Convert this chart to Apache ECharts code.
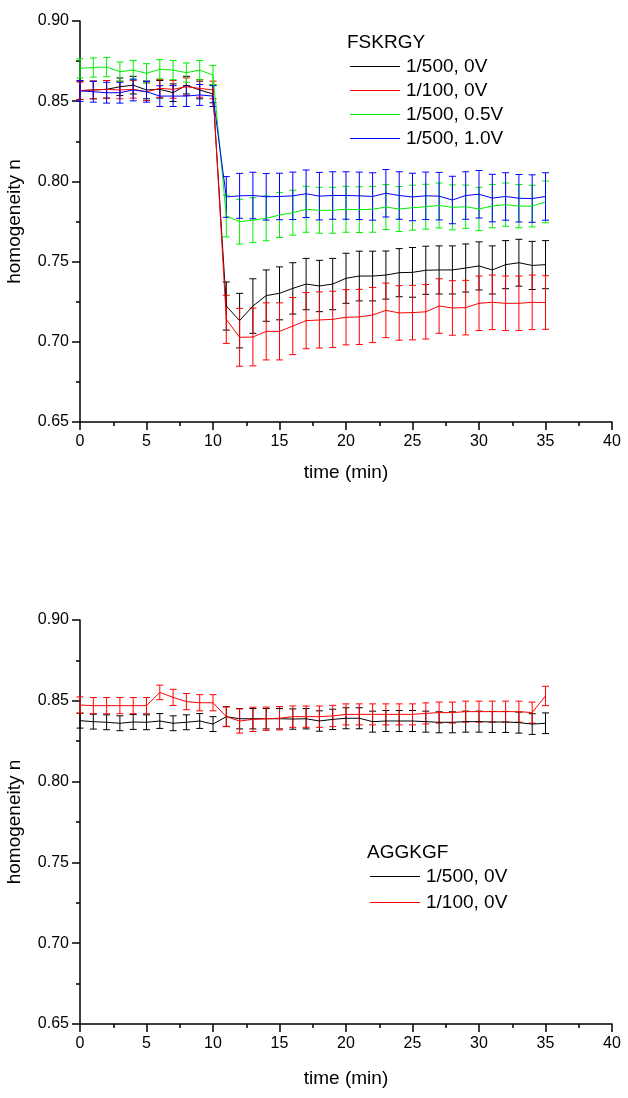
<!DOCTYPE html>
<html>
<head>
<meta charset="utf-8">
<script src="https://cdn.jsdelivr.net/npm/echarts@6/dist/echarts.min.js"></script>
<style>
html,body{margin:0;padding:0;background:#fff;}
#chart{width:628px;height:1098px;}
</style>
</head>
<body>
<div id="chart"></div>
<script>
// ---------- data ----------
const time = [0,1,2,3,4,5,6,7,8,9,10,11,12,13,14,15,16,17,18,19,20,21,22,23,24,25,26,27,28,29,30,31,32,33,34,35];

// Top chart: FSKRGY
const topNames = ['1/500, 0V', '1/100, 0V', '1/500, 0.5V', '1/500, 1.0V'];
const topBlack = [0.8566,0.8570,0.8574,0.8590,0.8600,0.8570,0.8574,0.8553,0.8600,0.8570,0.8545,
  0.7223,0.7132,0.7223,0.7288,0.7302,0.7333,0.7360,0.7348,0.7360,0.7396,0.7410,0.7410,0.7416,0.7431,
  0.7433,0.7446,0.7448,0.7448,0.7460,0.7473,0.7448,0.7481,0.7493,0.7476,0.7481];
const topBlackErr = [0.0055,0.0055,0.0055,0.0055,0.0055,0.0055,0.0055,0.0055,0.0055,0.0055,0.0055,
  0.015,0.017,0.017,0.016,0.0165,0.016,0.016,0.016,0.016,0.0156,0.0155,0.0155,0.015,0.015,
  0.0155,0.015,0.015,0.015,0.015,0.015,0.015,0.015,0.0146,0.015,0.015];
const topRed = [0.8566,0.8570,0.8574,0.8570,0.8574,0.8559,0.8580,0.8574,0.8590,0.8580,0.8570,
  0.7140,0.7028,0.7030,0.7065,0.7065,0.7098,0.7132,0.7136,0.7140,0.7153,0.7155,0.7167,0.7196,0.7180,
  0.7182,0.7187,0.7223,0.7211,0.7213,0.7240,0.7246,0.7240,0.7240,0.7246,0.7245];
const topRedErr = [0.0055,0.0055,0.0055,0.0055,0.0055,0.0055,0.0055,0.0055,0.0055,0.0055,0.0055,
  0.015,0.018,0.018,0.0178,0.0178,0.0178,0.0175,0.0175,0.0175,0.0172,0.0172,0.0172,0.017,0.017,
  0.017,0.017,0.017,0.017,0.017,0.017,0.017,0.017,0.017,0.017,0.0167];
const topGreen = [0.8705,0.8710,0.8713,0.8684,0.8694,0.8674,0.8699,0.8694,0.8678,0.8694,0.8663,
  0.7784,0.7749,0.7758,0.7770,0.7790,0.7805,0.7826,0.7820,0.7820,0.7826,0.7824,0.7826,0.7840,0.7828,
  0.7836,0.7842,0.7850,0.7838,0.7842,0.7828,0.7846,0.7855,0.7846,0.7846,0.7872];
const topGreenErr = [0.006,0.006,0.006,0.006,0.006,0.006,0.006,0.006,0.006,0.006,0.006,
  0.013,0.014,0.014,0.014,0.014,0.014,0.0143,0.0143,0.0143,0.0143,0.0143,0.0143,0.014,0.014,
  0.014,0.014,0.014,0.014,0.0135,0.0135,0.0135,0.0135,0.0135,0.013,0.013];
const topBlue = [0.8564,0.8559,0.8553,0.8553,0.8570,0.8559,0.8532,0.8532,0.8532,0.8539,0.8532,
  0.7903,0.7910,0.7912,0.7904,0.7906,0.7910,0.7923,0.7908,0.7912,0.7912,0.7910,0.7906,0.7926,0.7912,
  0.7903,0.7910,0.7908,0.7884,0.7912,0.7920,0.7896,0.7906,0.7895,0.7893,0.7906];
const topBlueErr = [0.0065,0.0065,0.0065,0.0065,0.0068,0.0065,0.0065,0.0065,0.0065,0.0065,0.0065,
  0.0127,0.014,0.0145,0.0145,0.0145,0.0148,0.0148,0.0148,0.0148,0.0148,0.0148,0.0148,0.0148,0.0148,
  0.0148,0.0148,0.0148,0.0148,0.0148,0.0148,0.0148,0.0148,0.0148,0.0148,0.0148];

// Bottom chart: AGGKGF
const botNames = ['1/500, 0V', '1/100, 0V'];
const botBlack = [0.8377,0.8371,0.8367,0.8361,0.8369,0.8367,0.8375,0.8361,0.8367,0.8375,0.8356,
  0.8402,0.8389,0.8389,0.8389,0.8389,0.8387,0.8389,0.8375,0.8385,
  0.8392,0.8392,0.8371,0.8375,0.8375,0.8375,0.8371,0.8367,0.8367,0.8371,0.8371,0.8369,0.8369,0.8365,0.8356,0.8361];
const botBlackErr = [0.0046,0.0046,0.0046,0.0046,0.0046,0.0046,0.0046,0.0046,0.0046,0.0046,0.0046,
  0.0062,0.0063,0.0063,0.0063,0.0063,0.0063,0.0063,0.0063,0.0063,
  0.0065,0.0065,0.0065,0.0065,0.0065,0.0065,0.0065,0.0065,0.0065,0.0065,0.0065,0.0065,0.0065,0.0065,0.0064,0.0064];
const botRed = [0.8474,0.8470,0.8470,0.8470,0.8470,0.8470,0.8552,0.8521,0.8495,0.8488,0.8488,
  0.8402,0.8375,0.8385,0.8389,0.8392,0.8402,0.8402,0.8402,0.8406,
  0.8416,0.8416,0.8416,0.8416,0.8416,0.8416,0.8422,0.8427,0.8427,0.8433,0.8433,0.8433,0.8433,0.8433,0.8427,0.8530];
const botRedErr = [0.005,0.005,0.005,0.005,0.005,0.005,0.0045,0.005,0.005,0.005,0.005,
  0.006,0.0075,0.0075,0.0072,0.0072,0.0066,0.0066,0.0066,0.0066,
  0.0065,0.0065,0.0065,0.0065,0.0065,0.0065,0.0065,0.0065,0.0065,0.0065,0.0065,0.0065,0.0065,0.0065,0.0065,0.006];

const xTicks = {min: 0, max: 40, interval: 5};
const yTicks = {min: 0.65, max: 0.90, interval: 0.05};

// ---------- chart ----------
const FONT = 'Liberation Sans, Arial, sans-serif';
const COLORS = {black: '#000000', red: '#ff0000', green: '#00f000', blue: '#0000ff'};

function xAxisCfg(gridIndex, nameGap) {
  return {
    type: 'value', gridIndex, min: xTicks.min, max: xTicks.max, interval: xTicks.interval,
    name: 'time (min)', nameLocation: 'middle', nameGap,
    nameTextStyle: {color: '#000', fontSize: 19, fontFamily: FONT},
    axisLine: {show: true, onZero: false, lineStyle: {color: '#000', width: 1.5}},
    axisTick: {show: true, inside: false, length: 8, lineStyle: {color: '#000', width: 1.5}},
    minorTick: {show: true, splitNumber: 2, length: 4, lineStyle: {color: '#000', width: 1.5}},
    splitLine: {show: false}, minorSplitLine: {show: false},
    axisLabel: {color: '#000', fontSize: 16, fontFamily: FONT, margin: 12}
  };
}
function yAxisCfg(gridIndex) {
  return {
    type: 'value', gridIndex, min: yTicks.min, max: yTicks.max, interval: yTicks.interval,
    name: 'homogeneity n', nameLocation: 'middle', nameGap: 56, nameRotate: 90,
    nameTextStyle: {color: '#000', fontSize: 19, fontFamily: FONT},
    axisLine: {show: true, onZero: false, lineStyle: {color: '#000', width: 1.5}},
    axisTick: {show: true, inside: false, length: 8, lineStyle: {color: '#000', width: 1.5}},
    minorTick: {show: true, splitNumber: 2, length: 4, lineStyle: {color: '#000', width: 1.5}},
    splitLine: {show: false}, minorSplitLine: {show: false},
    axisLabel: {color: '#000', fontSize: 16, fontFamily: FONT, margin: 11,
      formatter: v => v.toFixed(2)}
  };
}

function errSeries(id, gi, mean, err, color) {
  return {
    type: 'custom', name: id, xAxisIndex: gi, yAxisIndex: gi, silent: true,
    encode: {x: 0, y: [1, 2]},
    data: time.map((t, i) => [t, mean[i] - err[i], mean[i] + err[i]]),
    renderItem: function (params, api) {
      const lo = api.coord([api.value(0), api.value(1)]);
      const hi = api.coord([api.value(0), api.value(2)]);
      const w = 3.5;
      const st = {stroke: color, lineWidth: 1};
      return {type: 'group', children: [
        {type: 'line', shape: {x1: lo[0], y1: lo[1], x2: hi[0], y2: hi[1]}, style: st},
        {type: 'line', shape: {x1: lo[0] - w, y1: lo[1], x2: lo[0] + w, y2: lo[1]}, style: st},
        {type: 'line', shape: {x1: hi[0] - w, y1: hi[1], x2: hi[0] + w, y2: hi[1]}, style: st}
      ]};
    }
  };
}
function lineSeries(name, gi, mean, color) {
  return {
    type: 'line', name, xAxisIndex: gi, yAxisIndex: gi,
    data: time.map((t, i) => [t, mean[i]]),
    showSymbol: false, symbol: 'none',
    lineStyle: {color, width: 1}, itemStyle: {color},
    emphasis: {disabled: true}
  };
}

const legendText = {color: '#000', fontSize: 19, lineHeight: 19, fontFamily: FONT, padding: [0, 0, 0, 1]};

const chart = echarts.init(document.getElementById('chart'), null, {renderer: 'canvas'});
chart.setOption({
  animation: false,
  backgroundColor: '#ffffff',
  textStyle: {fontFamily: FONT},
  title: [
    {text: 'FSKRGY', left: 342, top: 28, textStyle: {color: '#000', fontSize: 19, fontWeight: 'normal', fontFamily: FONT}},
    {text: 'AGGKGF', left: 362, top: 838, textStyle: {color: '#000', fontSize: 19, fontWeight: 'normal', fontFamily: FONT}}
  ],
  legend: [
    {data: topNames, orient: 'vertical', left: 345, top: 52, icon: 'rect', itemWidth: 50, itemHeight: 1, itemGap: 5,
      textStyle: legendText, selectedMode: false},
    {data: botNames, orient: 'vertical', left: 365, top: 862, icon: 'rect', itemWidth: 50, itemHeight: 1, itemGap: 7,
      textStyle: legendText, selectedMode: false}
  ],
  grid: [
    {left: 80, top: 21, width: 532, height: 401, containLabel: false, outerBoundsMode: 'none'},
    {left: 80, top: 620, width: 532, height: 404, containLabel: false, outerBoundsMode: 'none'}
  ],
  xAxis: [xAxisCfg(0, 41), xAxisCfg(1, 45)],
  yAxis: [yAxisCfg(0), yAxisCfg(1)],
  series: [
    errSeries('e-top-black', 0, topBlack, topBlackErr, COLORS.black),
    lineSeries(topNames[0], 0, topBlack, COLORS.black),
    errSeries('e-top-red', 0, topRed, topRedErr, COLORS.red),
    lineSeries(topNames[1], 0, topRed, COLORS.red),
    errSeries('e-top-green', 0, topGreen, topGreenErr, COLORS.green),
    lineSeries(topNames[2], 0, topGreen, COLORS.green),
    errSeries('e-top-blue', 0, topBlue, topBlueErr, COLORS.blue),
    lineSeries(topNames[3], 0, topBlue, COLORS.blue),
    errSeries('e-bot-black', 1, botBlack, botBlackErr, COLORS.black),
    lineSeries(botNames[0], 1, botBlack, COLORS.black),
    errSeries('e-bot-red', 1, botRed, botRedErr, COLORS.red),
    lineSeries(botNames[1], 1, botRed, COLORS.red)
  ]
});
</script>
</body>
</html>
